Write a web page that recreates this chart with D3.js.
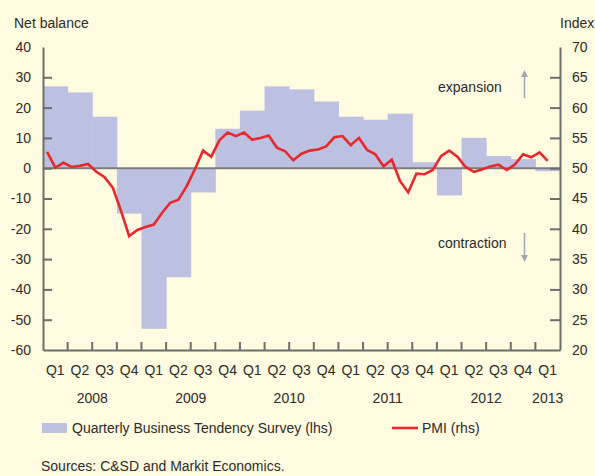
<!DOCTYPE html>
<html>
<head>
<meta charset="utf-8">
<script src="https://cdn.jsdelivr.net/npm/d3@7"></script>
<style>
  html, body { margin: 0; padding: 0; background: #fffbe0; }
  svg { display: block; font-family: "Liberation Sans", Arial, sans-serif; }
</style>
</head>
<body>
<svg id="chart" width="595" height="476"></svg>
<script>
const years = [2008, 2009, 2010, 2011, 2012, 2013];
const quarterNames = ["Q1", "Q2", "Q3", "Q4"];

// Q1 2008 .. Q1 2013, net balance (lhs)
const surveyValues = [
    27, 25, 17, -15,
    -53, -36, -8, 13,
    19, 27, 26, 22,
    17, 16, 18, 2,
    -9, 10, 4, 3,
    -1,
];

// monthly PMI (rhs), Jan 2008 .. Feb 2013
const pmiValues = [
    52.7, 50.1, 50.9, 50.2, 50.4, 50.7, 49.4, 48.5, 46.8, 43.0, 38.8, 39.8,
    40.3, 40.7, 42.6, 44.3, 44.8, 47.0, 49.8, 52.9, 51.9, 54.6, 55.9, 55.3,
    55.9, 54.7, 55.0, 55.4, 53.4, 52.8, 51.3, 52.4, 52.9, 53.1, 53.6, 55.1,
    55.3, 53.8, 55.0, 53.0, 52.3, 50.3, 51.4, 47.9, 46.0, 49.1, 49.0, 49.7,
    52.0, 52.9, 51.9, 50.2, 49.4, 49.8, 50.3, 50.6, 49.7, 50.6, 52.3, 51.8,
    52.6, 51.2,
];

const leftTicks = [-60, -50, -40, -30, -20, -10, 0, 10, 20, 30, 40];
const rightTicks = [20, 25, 30, 35, 40, 45, 50, 55, 60, 65, 70];

const bgColor = "#fffbe0";
const barColor = "#bcc0e1";
const lineColor = "#e8282c";
const axisColor = "#6e6e6e";
const textColor = "#2b2b2b";
const arrowColor = "#a3a6ae";
const fontSize = "14px";

const plotLeft = 43, plotRight = 560, plotTop = 47, plotBottom = 350;

const quarters = surveyValues.map((v, i) => ({
    key: `${years[Math.floor(i / 4)]} ${quarterNames[i % 4]}`,
    label: quarterNames[i % 4],
    value: v,
}));

const svg = d3.select("#chart");
svg.append("rect").attr("width", 595).attr("height", 476).attr("fill", bgColor);

const x = d3.scaleBand().domain(quarters.map((q) => q.key)).range([plotLeft, plotRight]).padding(0);
const xMonth = d3.scaleLinear().domain([0, quarters.length * 3]).range([plotLeft, plotRight]);
const yL = d3.scaleLinear().domain([-60, 40]).range([plotBottom, plotTop]);
const yR = d3.scaleLinear().domain([20, 70]).range([plotBottom, plotTop]);

// bars
svg.append("g")
    .selectAll("rect")
    .data(quarters)
    .join("rect")
    .attr("x", (d) => x(d.key))
    .attr("width", x.bandwidth() + 0.5)
    .attr("y", (d) => yL(Math.max(0, d.value)))
    .attr("height", (d) => Math.abs(yL(d.value) - yL(0)))
    .attr("fill", barColor);

// zero line
svg.append("line")
    .attr("x1", plotLeft).attr("x2", plotRight)
    .attr("y1", yL(0)).attr("y2", yL(0))
    .attr("stroke", "#7c7c7c")
    .attr("stroke-width", 2);

// left axis (plain hyphen for negatives, as in the source)
const gL = svg.append("g")
    .attr("transform", `translate(${plotLeft},0)`)
    .call(d3.axisLeft(yL).tickValues(leftTicks).tickFormat((d) => String(d))
        .tickSize(-9).tickSizeOuter(0).tickPadding(12));

// right axis
const gR = svg.append("g")
    .attr("transform", `translate(${plotRight},0)`)
    .call(d3.axisRight(yR).tickValues(rightTicks).tickFormat((d) => String(d))
        .tickSize(-10).tickSizeOuter(0).tickPadding(12));

// bottom axis
const gB = svg.append("g")
    .attr("transform", `translate(0,${plotBottom})`)
    .call(d3.axisBottom(x).tickSize(0).tickSizeOuter(0).tickPadding(15).tickFormat((k) => k.split(" ")[1]));

gB.selectAll(".tick")
    .filter((k, i) => i > 0)
    .append("line")
    .attr("x1", -x.bandwidth() / 2).attr("x2", -x.bandwidth() / 2)
    .attr("y1", 0).attr("y2", -8);

[gL, gR, gB].forEach((g) => {
    g.select(".domain").attr("stroke", axisColor).attr("stroke-width", 2);
    g.selectAll(".tick line").attr("stroke", axisColor).attr("stroke-width", 2);
    g.selectAll(".tick text").attr("fill", textColor).style("font-size", fontSize);
});
gL.selectAll(".tick").filter((d) => d === 40 || d === -60).select("line").remove();
gR.selectAll(".tick").filter((d) => d === 70 || d === 20).select("line").remove();

// year labels
svg.append("g")
    .selectAll("text")
    .data(years)
    .join("text")
    .attr("x", (yr) => (x(`${yr} Q3`) !== undefined ? x(`${yr} Q3`) : x(`${yr} Q1`) + x.bandwidth() / 2))
    .attr("y", 403)
    .attr("text-anchor", "middle")
    .attr("fill", textColor)
    .style("font-size", fontSize)
    .text((yr) => yr);

// PMI line
const line = d3.line()
    .x((d, i) => xMonth(i + 0.5))
    .y((d) => yR(d));

svg.append("path")
    .datum(pmiValues)
    .attr("d", line)
    .attr("fill", "none")
    .attr("stroke", lineColor)
    .attr("stroke-width", 2.6)
    .attr("stroke-linejoin", "miter");

// axis titles
svg.append("text").attr("x", 14).attr("y", 28).attr("fill", textColor)
    .style("font-size", fontSize).text("Net balance");
svg.append("text").attr("x", 560).attr("y", 28).attr("fill", textColor)
    .style("font-size", fontSize).text("Index");

// expansion / contraction notes
function arrow(x0, yTail, yTip) {
    const dir = yTip < yTail ? 1 : -1;
    svg.append("line")
        .attr("x1", x0).attr("x2", x0)
        .attr("y1", yTail).attr("y2", yTip + dir * 6)
        .attr("stroke", arrowColor).attr("stroke-width", 1.5);
    svg.append("path")
        .attr("d", `M${x0 - 3.5},${yTip + dir * 7} L${x0},${yTip} L${x0 + 3.5},${yTip + dir * 7} Z`)
        .attr("fill", arrowColor);
}
svg.append("text").attr("x", 438).attr("y", 92).attr("fill", textColor)
    .style("font-size", fontSize).text("expansion");
arrow(524.5, 98, 70);
svg.append("text").attr("x", 438).attr("y", 248).attr("fill", textColor)
    .style("font-size", fontSize).text("contraction");
arrow(524.5, 233, 262);

// legend
const legend = svg.append("g");
legend.append("rect").attr("x", 42).attr("y", 423).attr("width", 25).attr("height", 10).attr("fill", barColor);
legend.append("text").attr("x", 72).attr("y", 433).attr("fill", textColor)
    .style("font-size", fontSize).text("Quarterly Business Tendency Survey (lhs)");
legend.append("line").attr("x1", 392).attr("x2", 418).attr("y1", 428).attr("y2", 428)
    .attr("stroke", lineColor).attr("stroke-width", 2.6);
legend.append("text").attr("x", 422).attr("y", 433).attr("fill", textColor)
    .style("font-size", fontSize).text("PMI (rhs)");

// source note
svg.append("text").attr("x", 41).attr("y", 471).attr("fill", textColor)
    .style("font-size", fontSize).text("Sources: C&SD and Markit Economics.");
</script>
</body>
</html>
